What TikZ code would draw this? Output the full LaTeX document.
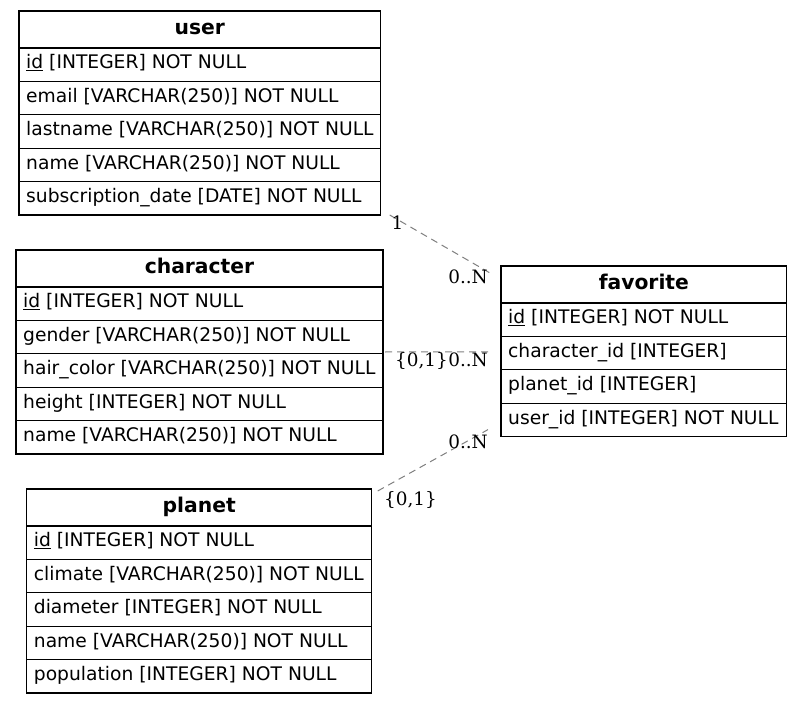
\documentclass[tikz,border=0pt]{standalone}
\usepackage{fontspec}
\usetikzlibrary{calc}
\newfontfamily\erdsans{DejaVu Sans}
\newfontfamily\erdserif{DejaVu Serif}
\definecolor{relgray}{HTML}{808080}

\newcommand\hdrfont{\erdsans\bfseries\fontsize{20.3}{22}\selectfont}
\newcommand\fldfont{\erdsans\fontsize{18.7}{20}\selectfont}
\newcommand\cardfont{\erdserif\fontsize{18.4}{20}\selectfont}

\tikzset{
  tbl/.style={draw=black, line width=1.2pt, inner sep=0pt, outer sep=0pt,
              anchor=north west, rectangle},
  hdr/.style={font=\hdrfont, anchor=base, inner sep=0pt},
  fld/.style={font=\fldfont, anchor=base west, inner sep=0pt},
  rowline/.style={draw=black, line width=1.2pt},
  rel/.style={draw=relgray, line width=1pt, dash pattern=on 7pt off 5pt},
  card/.style={font=\cardfont, inner sep=0pt}
}

% table frame with its bold title: name, title, left, top, width, number of fields
\newcommand\ertable[6]{%
  \node[tbl, minimum width=#5pt, minimum height={37pt+#6*33.4pt}] (#1) at (#3,#4) {};
  \node[hdr] (#1-title) at ($(#1.north)+(0,23.5)$) {#2};
}
% field rows of a table: name, list of fields
\newcommand\erfields[2]{%
  \foreach \fldtext [count=\i] in {#2} {
    \draw[rowline] ($(#1.north west)+(0,{37+(\i-1)*33.4})$) -- ($(#1.north east)+(0,{37+(\i-1)*33.4})$);
    \node[fld] (#1-f\i) at ($(#1.north west)+(7,{37+\i*33.4-12.5})$) {\fldtext};
  }
}

\begin{document}
\begin{tikzpicture}[x=1pt, y=-1pt]
  \fill[white] (0,0) rectangle (803,703);
  \useasboundingbox (0,0) rectangle (803,703);

  \ertable{user}{user}{19}{11}{361.7}{5}
  \erfields{user}{{\underline{id} [INTEGER] NOT NULL},
    {email [VARCHAR(250)] NOT NULL},
    {lastname [VARCHAR(250)] NOT NULL},
    {name [VARCHAR(250)] NOT NULL},
    {subscription\_date [DATE] NOT NULL}}

  \ertable{character}{character}{16}{250}{367}{5}
  \erfields{character}{{\underline{id} [INTEGER] NOT NULL},
    {gender [VARCHAR(250)] NOT NULL},
    {hair\_color [VARCHAR(250)] NOT NULL},
    {height [INTEGER] NOT NULL},
    {name [VARCHAR(250)] NOT NULL}}

  \ertable{planet}{planet}{26.7}{489}{345}{5}
  \erfields{planet}{{\underline{id} [INTEGER] NOT NULL},
    {climate [VARCHAR(250)] NOT NULL},
    {diameter [INTEGER] NOT NULL},
    {name [VARCHAR(250)] NOT NULL},
    {population [INTEGER] NOT NULL}}

  \ertable{favorite}{favorite}{501}{266}{285.7}{4}
  \erfields{favorite}{{\underline{id} [INTEGER] NOT NULL},
    {character\_id [INTEGER]},
    {planet\_id [INTEGER]},
    {user\_id [INTEGER] NOT NULL}}

  % relationships
  \draw[rel] ([shift={(9,0)}]user.south east) -- ([shift={(-11,7)}]favorite.north west);
  \draw[rel] ([shift={(2,0)}]character.east) -- ([shift={(-11,0.5)}]favorite.west);
  \draw[rel] ([shift={(6,2)}]planet.north east) -- ([shift={(-13,-7)}]favorite.south west);

  % cardinalities
  \node[card, anchor=base] (c-user) at (397.5,230) {1};
  \node[card, anchor=base east] (c-fav-user) at (488,283.5) {0..N};
  \node[card, anchor=base east] (c-fav-char) at (488,366.7) {0..N};
  \node[card, anchor=base east] (c-char) at (c-fav-char.base west) {\{0,1\}};
  \node[card, anchor=base east] (c-fav-planet) at (488,448.5) {0..N};
  \node[card, anchor=base west] (c-planet) at (384,505) {\{0,1\}};
\end{tikzpicture}
\end{document}
